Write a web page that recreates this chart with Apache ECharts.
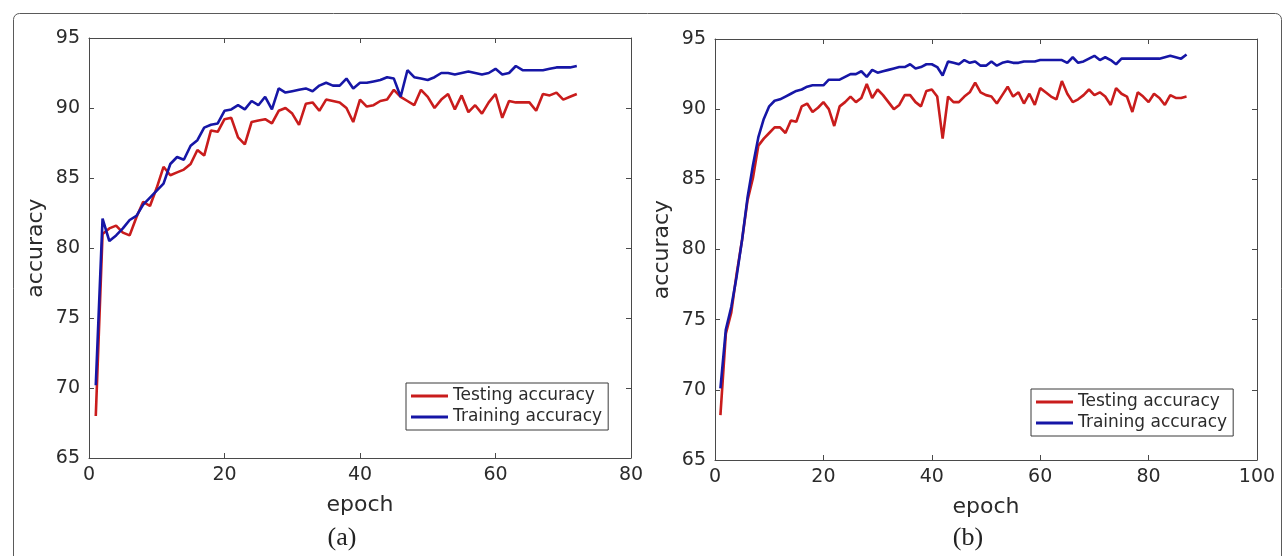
<!DOCTYPE html>
<html>
<head>
<meta charset="utf-8">
<script src="https://cdn.jsdelivr.net/npm/echarts@6/dist/echarts.min.js"></script>
<style>
html,body{margin:0;padding:0;background:#fff;}
#chart{width:1287px;height:556px;}
</style>
</head>
<body>
<div id="chart"></div>
<script>
// ---------- Data ----------
const epochsA = [1,2,3,4,5,6,7,8,9,10,11,12,13,14,15,16,17,18,19,20,21,22,23,24,25,26,27,28,29,30,31,32,33,34,35,36,37,38,39,40,41,42,43,44,45,46,47,48,49,50,51,52,53,54,55,56,57,58,59,60,61,62,63,64,65,66,67,68,69,70,71,72];
const testA = [68.0,81.0,81.4,81.6,81.1,80.9,82.2,83.3,83.0,84.3,85.8,85.2,85.4,85.6,86.0,87.0,86.6,88.4,88.3,89.2,89.3,87.9,87.4,89.0,89.1,89.2,88.9,89.8,90.0,89.6,88.8,90.3,90.4,89.8,90.6,90.5,90.4,90.0,89.0,90.6,90.1,90.2,90.5,90.6,91.3,90.8,90.5,90.2,91.3,90.8,90.0,90.6,91.0,89.9,90.9,89.7,90.2,89.6,90.4,91.0,89.3,90.5,90.4,90.4,90.4,89.8,91.0,90.9,91.1,90.6,90.8,91.0];
const trainA = [70.2,82.1,80.5,80.9,81.4,82.0,82.3,83.1,83.6,84.1,84.6,86.0,86.5,86.3,87.3,87.7,88.6,88.8,88.9,89.8,89.9,90.2,89.9,90.5,90.2,90.8,89.9,91.4,91.1,91.2,91.3,91.4,91.2,91.6,91.8,91.6,91.6,92.1,91.4,91.8,91.8,91.9,92.0,92.2,92.1,90.8,92.7,92.2,92.1,92.0,92.2,92.5,92.5,92.4,92.5,92.6,92.5,92.4,92.5,92.8,92.4,92.5,93.0,92.7,92.7,92.7,92.7,92.8,92.9,92.9,92.9,93.0];

const epochsB = [1,2,3,4,5,6,7,8,9,10,11,12,13,14,15,16,17,18,19,20,21,22,23,24,25,26,27,28,29,30,31,32,33,34,35,36,37,38,39,40,41,42,43,44,45,46,47,48,49,50,51,52,53,54,55,56,57,58,59,60,61,62,63,64,65,66,67,68,69,70,71,72,73,74,75,76,77,78,79,80,81,82,83,84,85,86,87];
const testB = [68.2,74.0,75.5,78.3,80.7,83.5,85.1,87.4,87.9,88.3,88.7,88.7,88.3,89.2,89.1,90.2,90.4,89.8,90.1,90.5,90.0,88.8,90.2,90.5,90.9,90.5,90.8,91.8,90.8,91.4,91.0,90.5,90.0,90.3,91.0,91.0,90.5,90.2,91.3,91.4,90.9,87.9,90.9,90.5,90.5,90.9,91.2,91.9,91.2,91.0,90.9,90.4,91.0,91.6,90.9,91.2,90.4,91.1,90.3,91.5,91.2,90.9,90.7,92.0,91.1,90.5,90.7,91.0,91.4,91.0,91.2,90.9,90.3,91.5,91.1,90.9,89.8,91.2,90.9,90.5,91.1,90.8,90.3,91.0,90.8,90.8,90.9];
const trainB = [70.1,74.3,75.9,78.1,80.7,83.7,86.0,88.0,89.3,90.2,90.6,90.7,90.9,91.1,91.3,91.4,91.6,91.7,91.7,91.7,92.1,92.1,92.1,92.3,92.5,92.5,92.7,92.3,92.8,92.6,92.7,92.8,92.9,93.0,93.0,93.2,92.9,93.0,93.2,93.2,93.0,92.4,93.4,93.3,93.2,93.5,93.3,93.4,93.1,93.1,93.4,93.1,93.3,93.4,93.3,93.3,93.4,93.4,93.4,93.5,93.5,93.5,93.5,93.5,93.3,93.7,93.3,93.4,93.6,93.8,93.5,93.7,93.5,93.2,93.6,93.6,93.6,93.6,93.6,93.6,93.6,93.6,93.7,93.8,93.7,93.6,93.9];

const xTicksA = [0,20,40,60,80];
const xTicksB = [0,20,40,60,80,100];
const yTicks = [65,70,75,80,85,90,95];
const seriesNames = ['Testing accuracy','Training accuracy'];
const captions = ['(a)','(b)'];
const axisNames = {x:'epoch', y:'accuracy'};

// ---------- Styling ----------
const RED = '#c91c1c';
const BLUE = '#1616a6';
const AX = '#4a4a4a';
const TXT = '#2b2b2b';
const FONT = 'DejaVu Sans';

function pairs(xs, ys){ return xs.map((x,i)=>[x, ys[i]]); }

function xAxisPair(gridIndex, ticks){
  const min = ticks[0], max = ticks[ticks.length-1], step = ticks[1]-ticks[0];
  const common = {
    gridIndex, type:'value', min, max, interval: step,
    splitLine:{show:false},
    axisLine:{show:true, onZero:false, lineStyle:{color:AX, width:1}},
    axisTick:{show:true, inside:true, length:5, lineStyle:{color:AX}}
  };
  return [
    Object.assign({}, common, {
      position:'bottom',
      axisLabel:{show:true, margin:8, fontSize:19, color:TXT, fontFamily:FONT},
      name: axisNames.x, nameLocation:'middle', nameGap:36,
      nameTextStyle:{fontSize:22, color:TXT, fontFamily:FONT}
    }),
    Object.assign({}, common, {position:'top', axisLabel:{show:false}})
  ];
}
function yAxisPair(gridIndex){
  const min = yTicks[0], max = yTicks[yTicks.length-1], step = yTicks[1]-yTicks[0];
  const common = {
    gridIndex, type:'value', min, max, interval: step,
    splitLine:{show:false},
    axisLine:{show:true, onZero:false, lineStyle:{color:AX, width:1}},
    axisTick:{show:true, inside:true, length:5, lineStyle:{color:AX}}
  };
  return [
    Object.assign({}, common, {
      position:'left',
      axisLabel:{show:true, margin:9, fontSize:19, color:TXT, fontFamily:FONT},
      name: axisNames.y, nameLocation:'middle', nameGap:42, nameRotate:90,
      nameTextStyle:{fontSize:22, color:TXT, fontFamily:FONT}
    }),
    Object.assign({}, common, {position:'right', axisLabel:{show:false}})
  ];
}

function lineSeries(name, data, color, xi, yi){
  return {
    name, type:'line', data, xAxisIndex:xi, yAxisIndex:yi,
    showSymbol:false, symbol:'none', smooth:false, animation:false,
    lineStyle:{color, width:2.6}, itemStyle:{color}, z:3
  };
}

function legendAt(left, top){
  return {
    orient:'vertical', left, top,
    data: seriesNames, selectedMode:false,
    icon:'rect', itemWidth:37, itemHeight:3, itemGap:1,
    padding:[3,6,3,5],
    borderColor:'#3a3a3a', borderWidth:1, borderRadius:0,
    backgroundColor:'#fff',
    textStyle:{fontSize:17, color:TXT, fontFamily:FONT, lineHeight:20}
  };
}

const xa = xAxisPair(0, xTicksA), xb = xAxisPair(1, xTicksB);
const ya = yAxisPair(0), yb = yAxisPair(1);

const option = {
  backgroundColor:'#ffffff',
  animation:false,
  grid:[
    {left:89, top:38, width:542, height:420, containLabel:false},
    {left:715, top:39, width:542, height:421, containLabel:false}
  ],
  xAxis:[xa[0], xa[1], xb[0], xb[1]],
  yAxis:[ya[0], ya[1], yb[0], yb[1]],
  legend:[legendAt(406, 383), legendAt(1031, 389)],
  series:[
    lineSeries(seriesNames[0], pairs(epochsA, testA), RED, 0, 0),
    lineSeries(seriesNames[1], pairs(epochsA, trainA), BLUE, 0, 0),
    lineSeries(seriesNames[0], pairs(epochsB, testB), RED, 2, 2),
    lineSeries(seriesNames[1], pairs(epochsB, trainB), BLUE, 2, 2)
  ],
  graphic:[
    {type:'rect', left:11, top:11, shape:{x:0,y:0,width:1268,height:600,r:6},
     style:{fill:'none', stroke:'#5a5a5a', lineWidth:1}, silent:true, z:-1},
    {type:'text', x:342, y:538, style:{text:captions[0], font:'26px "Liberation Serif"', fill:'#222', textAlign:'center', textVerticalAlign:'middle'}},
    {type:'text', x:968, y:538, style:{text:captions[1], font:'26px "Liberation Serif"', fill:'#222', textAlign:'center', textVerticalAlign:'middle'}}
  ]
};

const chart = echarts.init(document.getElementById('chart'), null, {renderer:'canvas'});
chart.setOption(option);
</script>
</body>
</html>
